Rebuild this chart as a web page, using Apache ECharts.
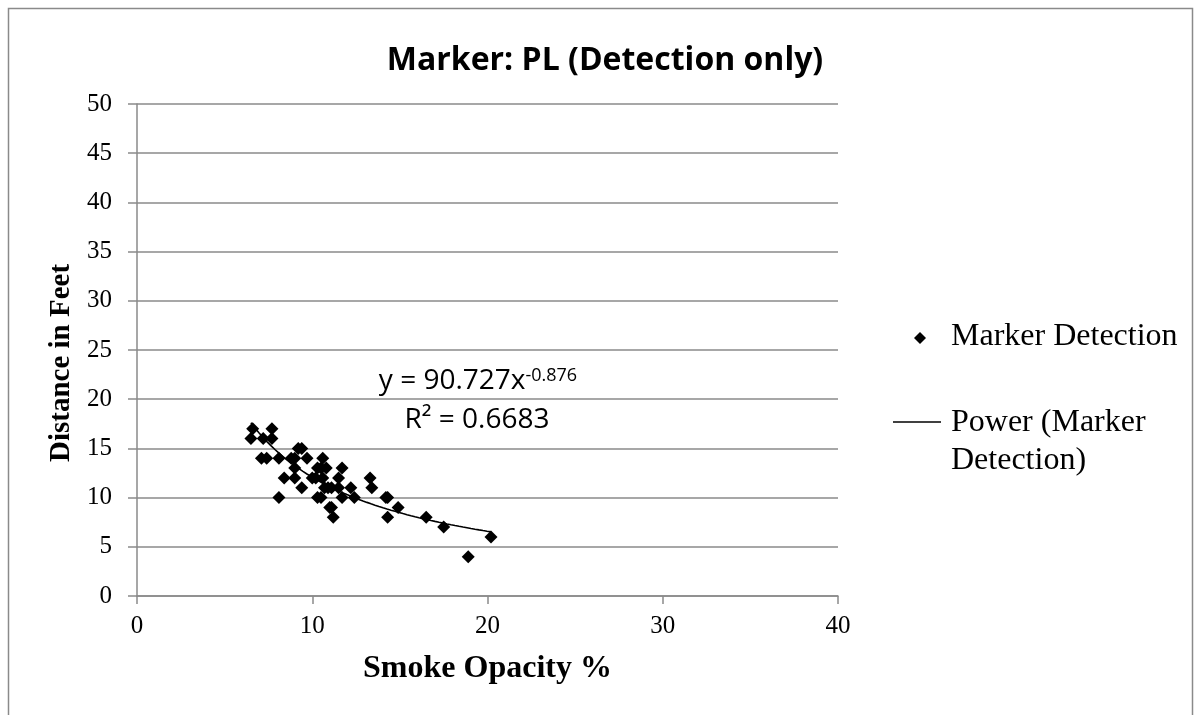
<!DOCTYPE html>
<html>
<head>
<meta charset="utf-8">
<script src="https://cdn.jsdelivr.net/npm/echarts@6/dist/echarts.min.js"></script>
<style>
  html, body { margin: 0; padding: 0; background: #fff; }
  #chart { width: 1194px; height: 715px; }
</style>
</head>
<body>
<div id="chart"></div>
<script>
// Smoke opacity (%) vs. distance at which the PL marker was detected (feet)
const opacity = [6.6, 7.7, 6.5, 7.2, 7.7, 7.1, 7.4, 8.1, 8.8, 9.0, 9.2, 9.4, 9.7, 9.0, 8.4, 9.0, 9.4, 8.1,
  10.0, 10.2, 10.3, 10.5, 10.8, 10.6, 10.6, 10.3, 10.5, 10.7, 10.9, 11.1, 11.0, 11.1, 11.2, 11.5,
  11.7, 11.7, 11.5, 12.2, 12.4, 13.3, 13.4, 14.2, 14.3, 14.3, 14.9, 16.5, 17.5, 18.9, 20.2];
const distance = [17, 17, 16, 16, 16, 14, 14, 14, 14, 14, 15, 15, 14, 13, 12, 12, 11, 10,
  12, 12, 13, 13, 13, 14, 12, 10, 10, 11, 11, 11, 9, 9, 8, 12,
  13, 10, 11, 11, 10, 12, 11, 10, 10, 8, 9, 8, 7, 4, 6];

// Power trendline y = a * x^b
const trendA = 90.727;
const trendB = -0.876;
const trendR2 = 0.6683;

const xTicks = [0, 10, 20, 30, 40];
const yTicks = [0, 5, 10, 15, 20, 25, 30, 35, 40, 45, 50];

const points = opacity.map((x, i) => [x, distance[i]]);
const xMin = Math.min(...opacity), xMax = Math.max(...opacity);
const trend = [];
for (let k = 0; k <= 60; k++) {
  const x = xMin + (xMax - xMin) * k / 60;
  trend.push([x, trendA * Math.pow(x, trendB)]);
}

const serif = '"Liberation Serif", "DejaVu Serif", serif';
const sans = '"Open Sans", "Noto Sans", sans-serif';
const gridColor = '#8a8a8a';

const chart = echarts.init(document.getElementById('chart'), null, { renderer: 'canvas' });
chart.setOption({
  backgroundColor: '#fff',
  animation: false,
  title: {
    text: 'Marker: PL (Detection only)',
    left: 600, top: 40, textAlign: 'center',
    textStyle: { fontFamily: sans, fontWeight: 'bold', fontSize: 32, color: '#000' }
  },
  grid: { left: 137, right: 356, top: 104, bottom: 119 },
  xAxis: {
    type: 'value', min: xTicks[0], max: xTicks[xTicks.length - 1], interval: 10,
    name: 'Smoke Opacity %', nameLocation: 'middle', nameGap: 57,
    nameTextStyle: { fontFamily: serif, fontWeight: 'bold', fontSize: 32, color: '#000' },
    axisLine: { lineStyle: { color: gridColor, width: 1.5 } },
    axisTick: { show: true, length: 8, lineStyle: { color: gridColor, width: 1.5 } },
    axisLabel: { fontFamily: serif, fontSize: 25, color: '#000', margin: 18 },
    splitLine: { show: false }
  },
  yAxis: {
    type: 'value', min: yTicks[0], max: yTicks[yTicks.length - 1], interval: 5,
    name: 'Distance in Feet', nameLocation: 'middle', nameGap: 59, nameRotate: 90,
    nameTextStyle: { fontFamily: serif, fontWeight: 'bold', fontSize: 29, color: '#000', padding: [0, 26, 0, 0] },
    axisLine: { show: true, lineStyle: { color: gridColor, width: 1.5 } },
    axisTick: { show: true, inside: false, length: 9, lineStyle: { color: gridColor, width: 1.5 } },
    axisLabel: { fontFamily: serif, fontSize: 25, color: '#000', margin: 25 },
    splitLine: { show: true, lineStyle: { color: gridColor, width: 1.5 } }
  },
  series: [
    {
      name: 'Marker Detection', type: 'scatter', data: points,
      symbol: 'diamond', symbolSize: 13,
      itemStyle: { color: '#000', opacity: 1 }, z: 3
    },
    {
      name: 'Power (Marker Detection)', type: 'line', data: trend,
      showSymbol: false, symbol: 'none', smooth: false,
      lineStyle: { color: '#000', width: 1.6 }, z: 4
    }
  ],
  graphic: [
    // outer frame
    { type: 'rect', shape: { x: 8.5, y: 8.5, width: 1184, height: 730 },
      style: { fill: 'none', stroke: '#8a8a8a', lineWidth: 1.5 }, silent: true },
    // trendline equation
    { type: 'text', x: 478, y: 367,
      style: {
        text: '{b|y = 90.727x}{s|' + trendB + '}',
        textAlign: 'center',
        rich: {
          b: { fontFamily: sans, fontSize: 28, fill: '#000' },
          s: { fontFamily: sans, fontSize: 18, fill: '#000', verticalAlign: 'top' }
        }
      } },
    { type: 'text', x: 477, y: 406,
      style: { text: 'R² = ' + trendR2, textAlign: 'center', fontFamily: sans, fontSize: 28, fill: '#000' } },
    // legend
    { type: 'polygon', shape: { points: [[920, 332], [926, 338], [920, 344], [914, 338]] },
      style: { fill: '#000' } },
    { type: 'text', left: 951, top: 321,
      style: { text: 'Marker Detection', fontFamily: serif, fontSize: 32, fill: '#000' } },
    { type: 'line', shape: { x1: 893, y1: 422, x2: 941, y2: 422 },
      style: { stroke: '#000', lineWidth: 1.5 } },
    { type: 'text', left: 951, top: 404,
      style: { text: 'Power (Marker\nDetection)', fontFamily: serif, fontSize: 32, lineHeight: 38, fill: '#000' } }
  ]
});
</script>
</body>
</html>
